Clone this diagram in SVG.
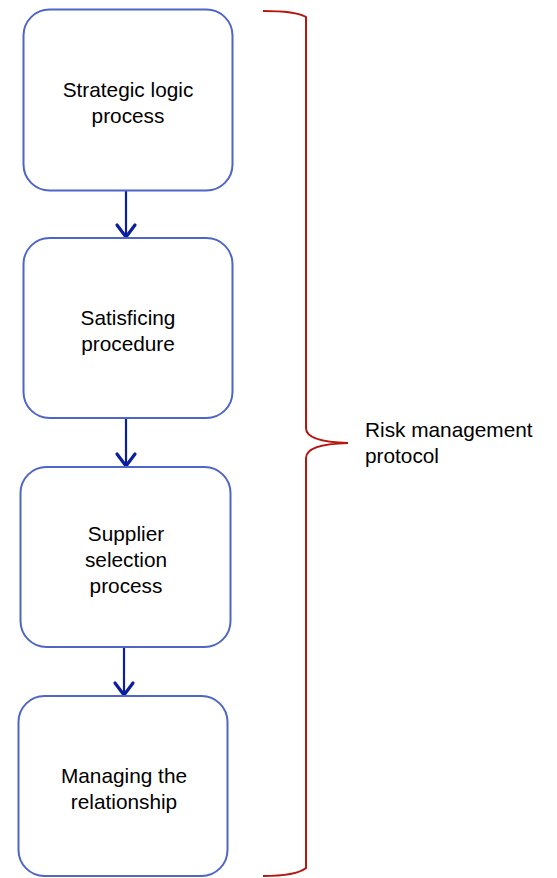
<svg xmlns="http://www.w3.org/2000/svg" width="557" height="878" viewBox="0 0 557 878">
<style>
.box{fill:#fff;stroke:#4f66c6;stroke-width:2}
.t{font-family:"Liberation Sans",Arial,sans-serif;font-size:20.8px;fill:#000;text-anchor:middle}
.lbl{font-family:"Liberation Sans",Arial,sans-serif;font-size:20.8px;fill:#000}
.arr{stroke:#0a1e9e;stroke-width:2.2;fill:none}
.head{stroke:#0a1e9e;stroke-width:3.2;fill:none;stroke-linecap:round;stroke-linejoin:round}
.brace{stroke:#b3170f;stroke-width:2;fill:none}
</style>
<rect width="557" height="878" fill="#fff"/>
<g id="connectors">
<line class="arr" x1="126" y1="191" x2="126" y2="236"/>
<path class="head" d="M117,225 L126,237 L135,225"/>
<line class="arr" x1="126" y1="419" x2="126" y2="465"/>
<path class="head" d="M117,454 L126,466 L135,454"/>
<line class="arr" x1="124" y1="648" x2="124" y2="694"/>
<path class="head" d="M115,683 L124,695 L133,683"/>
</g>
<g id="n1"><rect class="box" x="23.5" y="9.5" width="209" height="181" rx="26"/>
<text class="t" x="128" y="96.5">Strategic logic</text><text class="t" x="128" y="122.5">process</text></g>
<g id="n2"><rect class="box" x="23.5" y="238" width="209" height="180" rx="26"/>
<text class="t" x="128" y="324.5">Satisficing</text><text class="t" x="128" y="350.5">procedure</text></g>
<g id="n3"><rect class="box" x="20.5" y="467" width="210" height="180" rx="26"/>
<text class="t" x="126" y="540.5">Supplier</text><text class="t" x="126" y="566.5">selection</text><text class="t" x="126" y="592.5">process</text></g>
<g id="n4"><rect class="box" x="18.5" y="696" width="209" height="180" rx="26"/>
<text class="t" x="124" y="782.5">Managing the</text><text class="t" x="124" y="808.5">relationship</text></g>
<g id="brace">
<path class="brace" d="M263,11 Q296,11 306,17 L306,428 Q306,442 348,443 Q306,444 306,458 L306,868 Q296,876 263,876"/>
<text class="lbl" x="365" y="436.7">Risk management</text>
<text class="lbl" x="365" y="462.7">protocol</text>
</g>
</svg>
